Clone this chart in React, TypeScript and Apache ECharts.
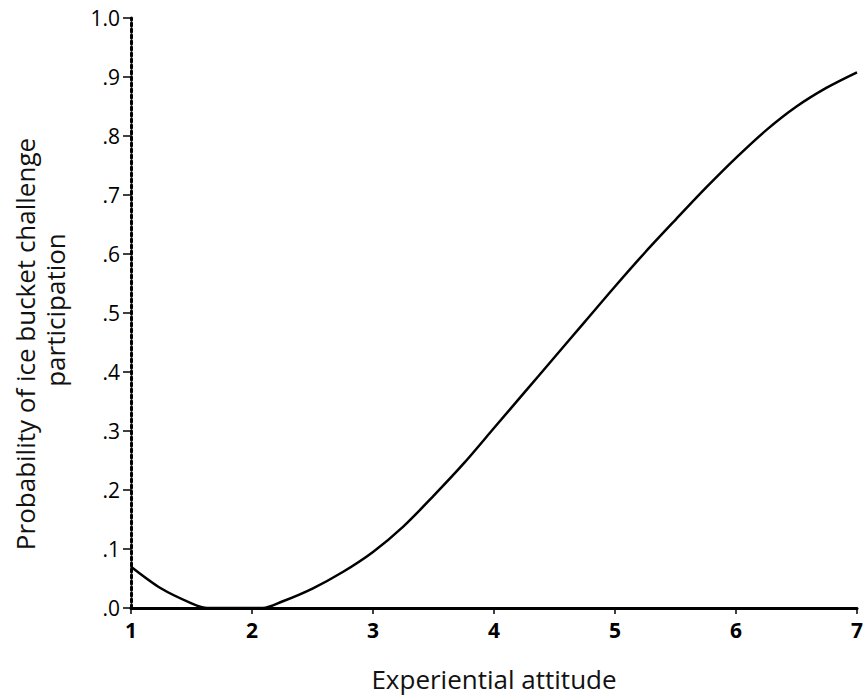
import React, { useEffect, useRef } from "react";
import * as echarts from "echarts";

const xValues = [1.0, 1.25, 1.5, 1.63, 1.75, 2.0, 2.09, 2.25, 2.5, 2.75, 3.0, 3.25, 3.5, 3.75, 4.0, 4.25, 4.5, 4.75, 5.0, 5.25, 5.5, 5.75, 6.0, 6.25, 6.5, 6.75, 7.0];
const probability = [0.07, 0.033, 0.008, 0.0, 0.0, 0.0, 0.0, 0.011, 0.033, 0.061, 0.095, 0.138, 0.19, 0.245, 0.305, 0.365, 0.425, 0.485, 0.545, 0.603, 0.658, 0.712, 0.763, 0.81, 0.85, 0.882, 0.908];
const xTitle = "Experiential attitude";
const yTitleLine1 = "Probability of ice bucket challenge";
const yTitleLine2 = "participation";

export default function App() {
  const ref = useRef<HTMLDivElement>(null);
  useEffect(() => {
    document.body.style.margin = "0";
    const chart = echarts.init(ref.current!, null, { renderer: "svg" });
    const font = "'Open Sans', 'Noto Sans', sans-serif";
    chart.setOption({
      animation: false,
      backgroundColor: "#ffffff",
      grid: { left: 131, right: 2, top: 18, bottom: 87, containLabel: false },
      graphic: [
        {
          type: "text",
          x: 25,
          y: 344,
          rotation: Math.PI / 2,
          style: { text: yTitleLine1, font: "26px 'Open Sans', sans-serif", fill: "#111", align: "center", verticalAlign: "middle" },
        },
        {
          type: "text",
          x: 55,
          y: 310,
          rotation: Math.PI / 2,
          style: { text: yTitleLine2, font: "26px 'Open Sans', sans-serif", fill: "#111", align: "center", verticalAlign: "middle" },
        },
      ],
      xAxis: {
        type: "value",
        min: 1,
        max: 7,
        interval: 1,
        name: xTitle,
        nameLocation: "middle",
        nameGap: 58,
        nameTextStyle: { fontSize: 26, color: "#111", fontFamily: font },
        axisLine: { show: true, onZero: false, lineStyle: { color: "#000", width: 3 } },
        axisTick: { show: true, length: 6, lineStyle: { color: "#000", width: 1.5 } },
        axisLabel: { fontSize: 21, color: "#000", fontWeight: "bold", fontFamily: font, margin: 11 },
        splitLine: { show: false },
      },
      yAxis: {
        type: "value",
        min: 0,
        max: 1,
        interval: 0.1,
        axisLine: { show: true, lineStyle: { color: "#000", width: 3, type: [3, 3] } },
        axisTick: { show: true, length: 8, lineStyle: { color: "#000", width: 1.5 } },
        axisLabel: {
          fontSize: 21,
          color: "#000",
          fontFamily: font,
          margin: 11,
          formatter: (v: number) => (Math.abs(v - 1) < 1e-9 ? "1.0" : "." + Math.round(v * 10)),
        },
        splitLine: { show: false },
      },
      series: [
        {
          type: "line",
          data: xValues.map((x, i) => [x, probability[i]]),
          smooth: 0.3,
          showSymbol: false,
          lineStyle: { color: "#000", width: 2.5 },
          z: 1,
        },
      ],
    });
    return () => chart.dispose();
  }, []);
  return <div ref={ref} style={{ width: 866, height: 697 }} />;
}
